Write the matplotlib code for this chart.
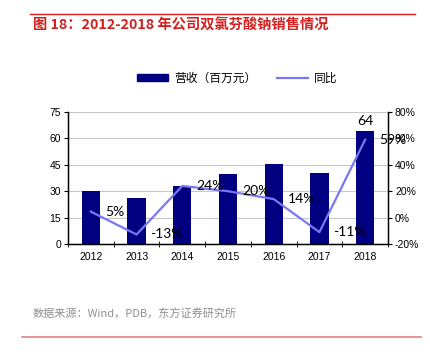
import matplotlib
matplotlib.use("Agg")
import matplotlib.pyplot as plt
from matplotlib.lines import Line2D

plt.rcParams['font.family'] = ['Liberation Sans', 'Noto Sans CJK SC']

years = ['2012', '2013', '2014', '2015', '2016', '2017', '2018']
revenue = [30.3, 26.3, 33.0, 39.6, 45.3, 40.3, 64.2]
yoy = [4.5, -12.8, 24.0, 20.0, 14.0, -11.0, 59.0]
yoy_labels = ['5%', '-13%', '24%', '20%', '14%', '-11%', '59%']
rev_label = '64'

bar_color = '#000080'
line_color = '#7878F5'
red = '#D42020'

fig = plt.figure(figsize=(4.3, 3.57), dpi=100)
ax = fig.add_axes([68/430, 1-244/357, 320/430, 132/357])
x = list(range(len(years)))

ax.bar(x, revenue, width=0.4, color=bar_color, zorder=2)
ax.set_ylim(0, 75)
ax.set_yticks([0, 15, 30, 45, 60, 75])
ax.set_xlim(-0.5, 6.5)
ax.set_xticks(x)
ax.set_xticklabels(years)
ax.set_xticks([i - 0.5 for i in range(8)], minor=True)
ax.tick_params(axis='x', which='major', length=0, labelsize=7.5, pad=6)
ax.tick_params(axis='x', which='minor', length=4, direction='inout')
ax.tick_params(axis='y', labelsize=7.5, length=3, pad=2)
ax.grid(axis='y', color='#c8c8c8', linewidth=0.8, zorder=0)
ax.spines['top'].set_visible(False)
for s in ['left', 'right', 'bottom']:
    ax.spines[s].set_linewidth(1.0)

ax2 = ax.twinx()
ax2.plot(x, yoy, color=line_color, linewidth=1.6, zorder=3)
ax2.set_ylim(-20, 80)
ax2.set_yticks([-20, 0, 20, 40, 60, 80])
ax2.set_yticklabels(['-20%', '0%', '20%', '40%', '60%', '80%'])
ax2.tick_params(axis='y', labelsize=7.5, length=3, pad=2)
ax2.spines['top'].set_visible(False)

for i, (v, lab) in enumerate(zip(yoy, yoy_labels)):
    ax2.annotate(lab, (i, v), xytext=(14, 0), textcoords='offset pixels',
                 ha='left', va='center', fontsize=10, family='Lato')
ax.annotate(rev_label, (6, revenue[6]), xytext=(0, 4), textcoords='offset pixels',
            ha='center', va='bottom', fontsize=10, family='Lato')

handles = [plt.Rectangle((0, 0), 1, 1, color=bar_color),
           Line2D([0], [0], color=line_color, linewidth=1.6)]
fig.legend(handles, ['营收（百万元）', '同比'], ncol=2, loc='center',
           bbox_to_anchor=(0.552, 1-78/357), frameon=False,
           prop={'family': ['Noto Sans CJK SC'], 'size': 8.5},
           handlelength=2.6, handleheight=0.5, handletextpad=0.5,
           columnspacing=1.8)

fig.text(33/430, 1-26/357, '图 18：2012-2018 年公司双氯芬酸钠销售情况',
         color=red, fontsize=10.3, fontweight='bold', va='center',
         family=['Noto Sans CJK SC'])
fig.add_artist(Line2D([30/430, 415/430], [1-14/357, 1-14/357],
                      color=red, linewidth=1.0))
fig.text(33/430, 1-314/357, '数据来源：Wind，PDB，东方证券研究所',
         color='#909090', fontsize=8, va='center', family=['Noto Sans CJK SC'])
fig.add_artist(Line2D([22/430, 421/430], [1-337/357, 1-337/357],
                      color='#E08080', linewidth=1.2))

fig.savefig('out.png', dpi=100)
